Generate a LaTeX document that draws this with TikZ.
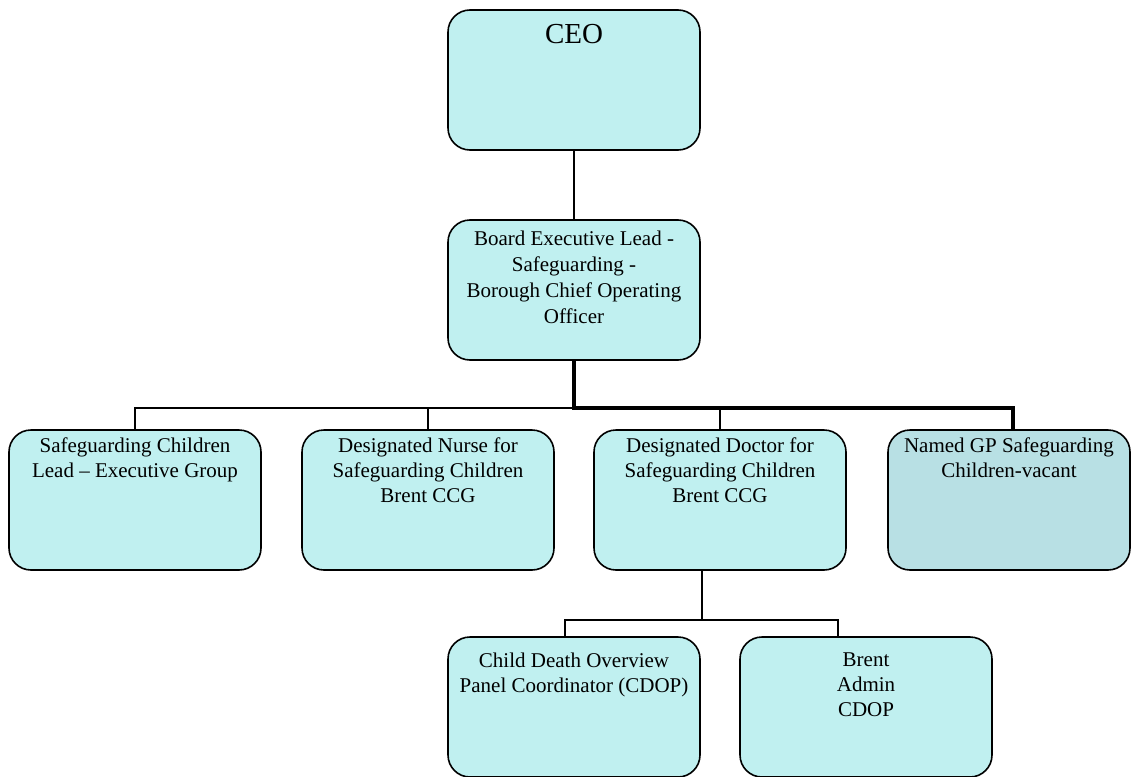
\documentclass[tikz,border=0pt]{standalone}
\usepackage{fontspec}
\setmainfont{Liberation Serif}
\usepackage{tikz}
\usetikzlibrary{positioning}
\definecolor{boxcyan}{RGB}{192,240,240}
\definecolor{boxgrey}{RGB}{184,224,228}
\newcommand{\boxtext}[2][0pt]{\begin{minipage}[c][124pt][t]{236pt}\centering\vspace*{#1}#2\end{minipage}}
\tikzstyle{post} = [rectangle, rounded corners=22pt, draw, line width=1.6pt, fill=boxcyan, inner sep=8pt, font=\fontsize{21}{25}\selectfont]
\tikzstyle{link} = [line width=1.8pt]
\tikzstyle{trunk} = [line width=4.8pt]

\begin{document}
\begin{tikzpicture}[x=1pt, y=-1pt]
\useasboundingbox (0,0) rectangle (1131,776);

% Posts in the chart
\node (ceo) [post, font=\fontsize{29}{32}\selectfont] at (574,80) {\boxtext[6pt]{CEO}};
\node (board) [post, font=\fontsize{21}{26}\selectfont] at (574,290) {\boxtext[3pt]{Board Executive Lead -\\Safeguarding -\\Borough Chief Operating\\Officer}};
\node (lead) [post] at (135,500) {\boxtext{Safeguarding Children\\Lead -- Executive Group}};
\node (nurse) [post] at (428,500) {\boxtext{Designated Nurse for\\Safeguarding Children\\Brent CCG}};
\node (doctor) [post] at (720,500) {\boxtext{Designated Doctor for\\Safeguarding Children\\Brent CCG}};
\node (gp) [post, fill=boxgrey] at (1009,500) {\begin{minipage}[c][124pt][t]{226pt}\centering Named GP Safeguarding\\Children-vacant\end{minipage}};
\node (cdop) [post] at (574,707) {\boxtext[8pt]{Child Death Overview\\Panel Coordinator (CDOP)}};
\node (admin) [post] at (866,707) {\boxtext[8pt]{Brent\\Admin\\CDOP}};

% Connecting the posts
\draw [link] (ceo.south) -- (board.north);
\coordinate (bus) at (574,408);
\draw [link] (bus) -| (lead.north);
\draw [link] (nurse.north) -- (nurse.north |- bus);
\draw [link] (doctor.north) -- (doctor.north |- bus);
\draw [trunk] (board.south) -- (bus) -| ([xshift=4pt]gp.north);
\draw [link] ([xshift=-18pt]doctor.south) -- ++(0,49) coordinate (sub);
\draw [link] (sub) -| ([xshift=-9pt]cdop.north);
\draw [link] (sub) -| ([xshift=-28pt]admin.north);

\end{tikzpicture}
\end{document}
